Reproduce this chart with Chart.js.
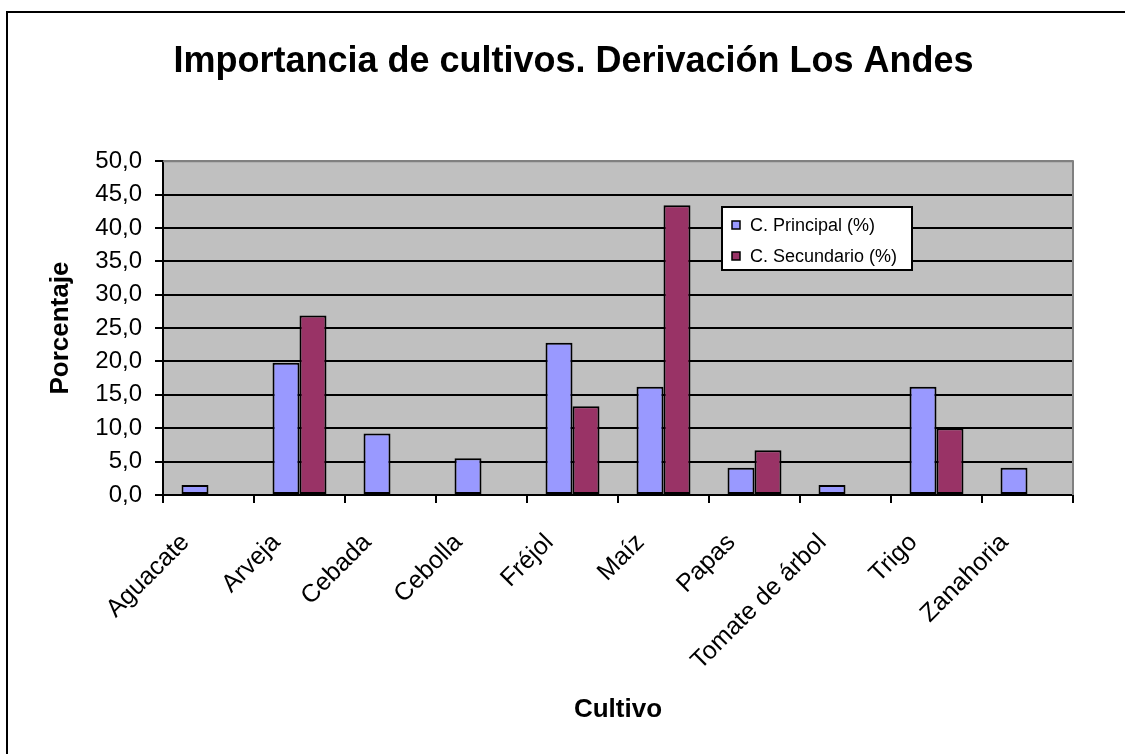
<!DOCTYPE html>
<html>
<head>
<meta charset="utf-8">
<script src="https://cdn.jsdelivr.net/npm/chart.js@4.4.1/dist/chart.umd.min.js"></script>
<style>
  html, body { margin: 0; padding: 0; background: #fff; }
  #wrap { position: absolute; left: 0; top: 0; width: 1125px; height: 754px; }
</style>
</head>
<body>
<div id="wrap"><canvas id="c" width="1125" height="754"></canvas></div>
<script>
const chartTitle = 'Importancia de cultivos. Derivación Los Andes';
const xAxisTitle = 'Cultivo';
const yAxisTitle = 'Porcentaje';
const categories = ['Aguacate', 'Arveja', 'Cebada', 'Cebolla', 'Fréjol', 'Maíz', 'Papas', 'Tomate de árbol', 'Trigo', 'Zanahoria'];
const seriesNames = ['C. Principal (%)', 'C. Secundario (%)'];
const principal = [1.5, 19.8, 9.2, 5.5, 22.8, 16.2, 4.1, 1.5, 16.2, 4.1];
const secundario = [null, 26.9, null, null, 13.3, 43.4, 6.7, null, 10.0, null];
const yMin = 0, yMax = 50, yStep = 5;

const FONT = '"Liberation Sans", Arial, sans-serif';
Chart.defaults.color = '#000';
Chart.defaults.font.family = FONT;

const frameAndBg = {
  id: 'frameAndBg',
  beforeDraw(chart) {
    const ctx = chart.ctx, a = chart.chartArea;
    ctx.save();
    ctx.fillStyle = '#fff';
    ctx.fillRect(0, 0, chart.width, chart.height);
    ctx.strokeStyle = '#000';
    ctx.lineWidth = 2;
    ctx.beginPath();
    ctx.moveTo(7, chart.height);
    ctx.lineTo(7, 12);
    ctx.lineTo(chart.width, 12);
    ctx.stroke();
    ctx.fillStyle = '#C0C0C0';
    ctx.fillRect(a.left, a.top, a.right - a.left, a.bottom - a.top);
    ctx.restore();
  },
  beforeDatasetsDraw(chart) {
    const ctx = chart.ctx, a = chart.chartArea;
    ctx.save();
    ctx.strokeStyle = '#808080';
    ctx.lineWidth = 2;
    ctx.beginPath();
    ctx.moveTo(a.left, a.top);
    ctx.lineTo(a.right, a.top);
    ctx.lineTo(a.right, a.bottom);
    ctx.stroke();
    ctx.restore();
  }
};

const insideLegend = {
  id: 'insideLegend',
  afterDraw(chart) {
    const ctx = chart.ctx;
    const x = 722, y = 207, w = 190, h = 63;
    ctx.save();
    ctx.fillStyle = '#fff';
    ctx.fillRect(x, y, w, h);
    ctx.strokeStyle = '#000';
    ctx.lineWidth = 2;
    ctx.strokeRect(x, y, w, h);
    ctx.font = '18px ' + FONT;
    ctx.textBaseline = 'middle';
    ctx.textAlign = 'left';
    chart.data.datasets.forEach((ds, i) => {
      const cy = y + 18 + i * 31;
      ctx.fillStyle = ds.backgroundColor;
      ctx.fillRect(x + 10, cy - 4, 8, 8);
      ctx.lineWidth = 1.5;
      ctx.strokeStyle = '#000';
      ctx.strokeRect(x + 10, cy - 4, 8, 8);
      ctx.fillStyle = '#000';
      ctx.fillText(ds.label, x + 28, cy + 1);
    });
    ctx.restore();
  }
};

new Chart(document.getElementById('c'), {
  type: 'bar',
  data: {
    labels: categories,
    datasets: [
      { label: seriesNames[0], data: principal, backgroundColor: '#9999FF', borderColor: '#000', borderWidth: 2, borderSkipped: false },
      { label: seriesNames[1], data: secundario, backgroundColor: '#993366', borderColor: '#000', borderWidth: 2, borderSkipped: false }
    ]
  },
  options: {
    responsive: false,
    animation: false,
    layout: { padding: { left: 74, right: 52, top: 0, bottom: 0 } },
    datasets: { bar: { categoryPercentage: 0.593, barPercentage: 1.0 } },
    plugins: {
      legend: { display: false },
      tooltip: { enabled: false },
      title: {
        display: true,
        text: chartTitle,
        color: '#000',
        font: { family: FONT, size: 36, weight: 'bold' },
        padding: { top: 40, bottom: 78 }
      }
    },
    scales: {
      x: {
        afterFit(s) { s.height = 259; },
        grid: { offset: true, drawOnChartArea: false, tickLength: 8, color: '#000', lineWidth: 2 },
        border: { color: '#000', width: 2 },
        ticks: { font: { family: FONT, size: 25 }, maxRotation: 45, minRotation: 45, padding: 25, labelOffset: -23, autoSkip: false },
        title: { display: true, text: xAxisTitle, font: { family: FONT, size: 26, weight: 'bold' }, padding: { top: 0, bottom: 29 } }
      },
      y: {
        min: yMin, max: yMax,
        afterFit(s) { s.width = 89; },
        grid: {
          color: (c) => (c.tick && c.tick.value === yMax ? '#808080' : '#000'),
          tickColor: '#000',
          lineWidth: 2,
          tickLength: 8
        },
        border: { color: '#000', width: 2 },
        ticks: {
          stepSize: yStep,
          font: { family: FONT, size: 24 },
          padding: 13,
          callback: (v) => Number(v).toFixed(1).replace('.', ',')
        },
        title: { display: true, text: yAxisTitle, font: { family: FONT, size: 26, weight: 'bold' }, padding: { top: -29, bottom: 0 } }
      }
    }
  },
  plugins: [frameAndBg, insideLegend]
});
</script>
</body>
</html>
